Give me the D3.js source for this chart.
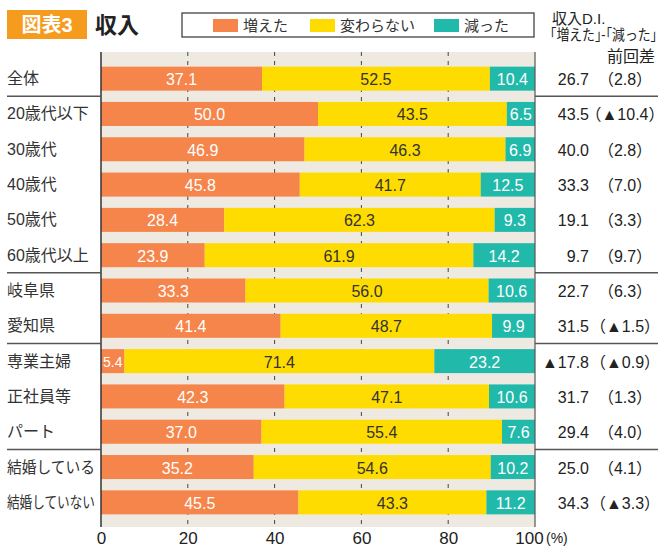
<!DOCTYPE html>
<html>
<head>
<meta charset="utf-8">
<script src="https://cdn.jsdelivr.net/npm/d3@7"></script>
<style>
  body { margin: 0; background: #fff; }
  svg text { font-family: "Liberation Sans", "Noto Sans CJK JP", sans-serif; }
</style>
</head>
<body>
<div class="svg-container"></div>
<script>
// values
const categories = ['全体', '20歳代以下', '30歳代', '40歳代', '50歳代', '60歳代以上',
  '岐阜県', '愛知県', '専業主婦', '正社員等', 'パート', '結婚している', '結婚していない'];
const increased = [37.1, 50.0, 46.9, 45.8, 28.4, 23.9, 33.3, 41.4, 5.4, 42.3, 37.0, 35.2, 45.5];
const unchanged = [52.5, 43.5, 46.3, 41.7, 62.3, 61.9, 56.0, 48.7, 71.4, 47.1, 55.4, 54.6, 43.3];
const decreased = [10.4, 6.5, 6.9, 12.5, 9.3, 14.2, 10.6, 9.9, 23.2, 10.6, 7.6, 10.2, 11.2];
const diValues = ['26.7', '43.5', '40.0', '33.3', '19.1', '9.7', '22.7', '31.5', '▲17.8', '31.7', '29.4', '25.0', '34.3'];
const prevDiff = ['2.8', '▲10.4', '2.8', '7.0', '3.3', '9.7', '6.3', '▲1.5', '▲0.9', '1.3', '4.0', '4.1', '▲3.3'];
const seriesNames = ['増えた', '変わらない', '減った'];
const xTicks = [0, 20, 40, 60, 80, 100];
// separator lines after these rows
const groupEnds = ['全体', '60歳代以上', '愛知県', 'パート'];

const width = 662;
const height = 547;
const plot = { left: 101, right: 535, top: 52, bottom: 527 };
const colours = ['#F5854A', '#FFDC00', '#21B9AA'];
const labelColours = ['#fff', '#333', '#fff'];

const svg = d3.select('.svg-container')
  .append('svg')
  .attr('width', width)
  .attr('height', height);

const x = d3.scaleLinear().domain([0, 100]).range([plot.left, plot.right]);
const y = d3.scaleBand().domain(categories).range([61, 520]).paddingInner(0.32).paddingOuter(0.16);

// title
svg.append('rect')
  .attr('x', 7).attr('y', 10).attr('width', 80).attr('height', 29)
  .attr('fill', '#F59C1F');
svg.append('text')
  .attr('x', 47).attr('y', 32)
  .attr('text-anchor', 'middle')
  .attr('fill', '#fff')
  .style('font-size', '20px').style('font-weight', 'bold')
  .text('図表3');
svg.append('text')
  .attr('x', 95).attr('y', 33)
  .attr('fill', '#222')
  .style('font-size', '22px').style('font-weight', 'bold')
  .text('収入');

// legend
svg.append('rect')
  .attr('x', 182).attr('y', 13).attr('width', 352).attr('height', 24)
  .attr('fill', '#fff').attr('stroke', '#333').attr('stroke-width', 1.2);
const legendX = [213, 310, 434];
seriesNames.forEach((name, i) => {
  svg.append('rect')
    .attr('x', legendX[i]).attr('y', 19).attr('width', 25).attr('height', 13)
    .attr('fill', colours[i]);
  svg.append('text')
    .attr('x', legendX[i] + 30).attr('y', 31)
    .attr('fill', '#333')
    .style('font-size', '15px')
    .text(name);
});

// right column headers
svg.append('text').attr('x', 552).attr('y', 24).attr('fill', '#222')
  .style('font-size', '15px').text('収入D.I.');
svg.append('text').attr('x', 550).attr('y', 40).attr('fill', '#222')
  .attr('textLength', 107).attr('lengthAdjust', 'spacingAndGlyphs')
  .style('font-size', '14.5px').text('｢増えた｣-｢減った｣');
svg.append('text').attr('x', 655).attr('y', 62).attr('fill', '#222')
  .attr('text-anchor', 'end')
  .style('font-size', '16px').text('前回差');

// background of the plot
svg.append('rect')
  .attr('x', plot.left).attr('y', plot.top)
  .attr('width', plot.right - plot.left).attr('height', plot.bottom - plot.top)
  .attr('fill', '#EEEAE1');

// dashed grid lines
svg.append('g')
  .selectAll('line')
  .data(xTicks.slice(1, -1))
  .enter()
  .append('line')
  .attr('x1', (d) => x(d)).attr('x2', (d) => x(d))
  .attr('y1', plot.top).attr('y2', plot.bottom)
  .attr('stroke', '#444').attr('stroke-width', 1)
  .attr('stroke-dasharray', '4,5');

// stacked bars
const rows = categories.map((c, i) => ({ category: c, v: [increased[i], unchanged[i], decreased[i]] }));
rows.forEach((row) => {
  let start = 0;
  row.v.forEach((val, k) => {
    const end = Math.min(start + val, 100);
    const g = svg.append('g');
    g.append('rect')
      .attr('x', x(start))
      .attr('y', y(row.category))
      .attr('width', x(end) - x(start))
      .attr('height', y.bandwidth())
      .attr('fill', colours[k]);
    g.append('text')
      .attr('x', (x(start) + x(end)) / 2)
      .attr('y', y(row.category) + y.bandwidth() / 2 + 1)
      .attr('text-anchor', 'middle')
      .attr('dominant-baseline', 'central')
      .attr('fill', labelColours[k])
      .style('font-size', val < 6 ? '14px' : '16px')
      .text(val.toFixed(1));
    start = end;
  });
});

// axis lines
svg.append('line')
  .attr('x1', plot.left).attr('x2', plot.left)
  .attr('y1', plot.top).attr('y2', plot.bottom)
  .attr('stroke', '#333').attr('stroke-width', 1.5);
svg.append('line')
  .attr('x1', plot.right).attr('x2', plot.right)
  .attr('y1', plot.top).attr('y2', plot.bottom)
  .attr('stroke', '#555').attr('stroke-width', 1.2);

// x axis
const xAxis = svg.append('g')
  .attr('transform', `translate(0,${plot.bottom})`)
  .call(d3.axisBottom(x).tickValues(xTicks).tickSize(0).tickPadding(5));
xAxis.select('.domain').remove();
xAxis.selectAll('text')
  .attr('fill', '#222')
  .style('font-size', '17px')
  .style('font-family', '"Liberation Sans", sans-serif');
xAxis.selectAll('.tick').filter((d) => d === 100)
  .select('text')
  .attr('x', -6);
svg.append('text')
  .attr('x', 546).attr('y', 543)
  .attr('fill', '#222')
  .style('font-size', '14px')
  .text('(%)');

// category labels, squeezed when they would run into the axis
svg.append('g')
  .selectAll('text')
  .data(categories)
  .enter()
  .append('text')
  .attr('x', 7)
  .attr('y', (d) => y(d) + y.bandwidth() / 2)
  .attr('dominant-baseline', 'central')
  .attr('fill', '#333')
  .style('font-size', '16px')
  .text((d) => d)
  .each(function () {
    const w = this.getComputedTextLength();
    if (w > 88) {
      d3.select(this).attr('textLength', 88).attr('lengthAdjust', 'spacingAndGlyphs');
    }
  });

// D.I. values and change from last time
svg.append('g')
  .selectAll('text')
  .data(categories)
  .enter()
  .append('text')
  .attr('x', 589)
  .attr('y', (d) => y(d) + y.bandwidth() / 2 + 1)
  .attr('text-anchor', 'end')
  .attr('dominant-baseline', 'central')
  .attr('fill', '#222')
  .style('font-size', '16px')
  .text((d, i) => diValues[i]);
svg.append('g')
  .selectAll('text')
  .data(categories)
  .enter()
  .append('text')
  .attr('x', 625)
  .attr('y', (d) => y(d) + y.bandwidth() / 2 + 1)
  .attr('text-anchor', 'middle')
  .attr('dominant-baseline', 'central')
  .attr('fill', '#222')
  .style('font-size', '16px')
  .text((d, i) => '（' + prevDiff[i] + '）');

// group separators (outside the plot only)
groupEnds.forEach((c) => {
  const i = categories.indexOf(c);
  const yy = (y(c) + y.bandwidth() + y(categories[i + 1])) / 2;
  [[7, plot.left], [plot.right, 658]].forEach(([a, b]) => {
    svg.append('line')
      .attr('x1', a).attr('x2', b)
      .attr('y1', yy).attr('y2', yy)
      .attr('stroke', '#555').attr('stroke-width', 1.5);
  });
});
</script>
</body>
</html>
